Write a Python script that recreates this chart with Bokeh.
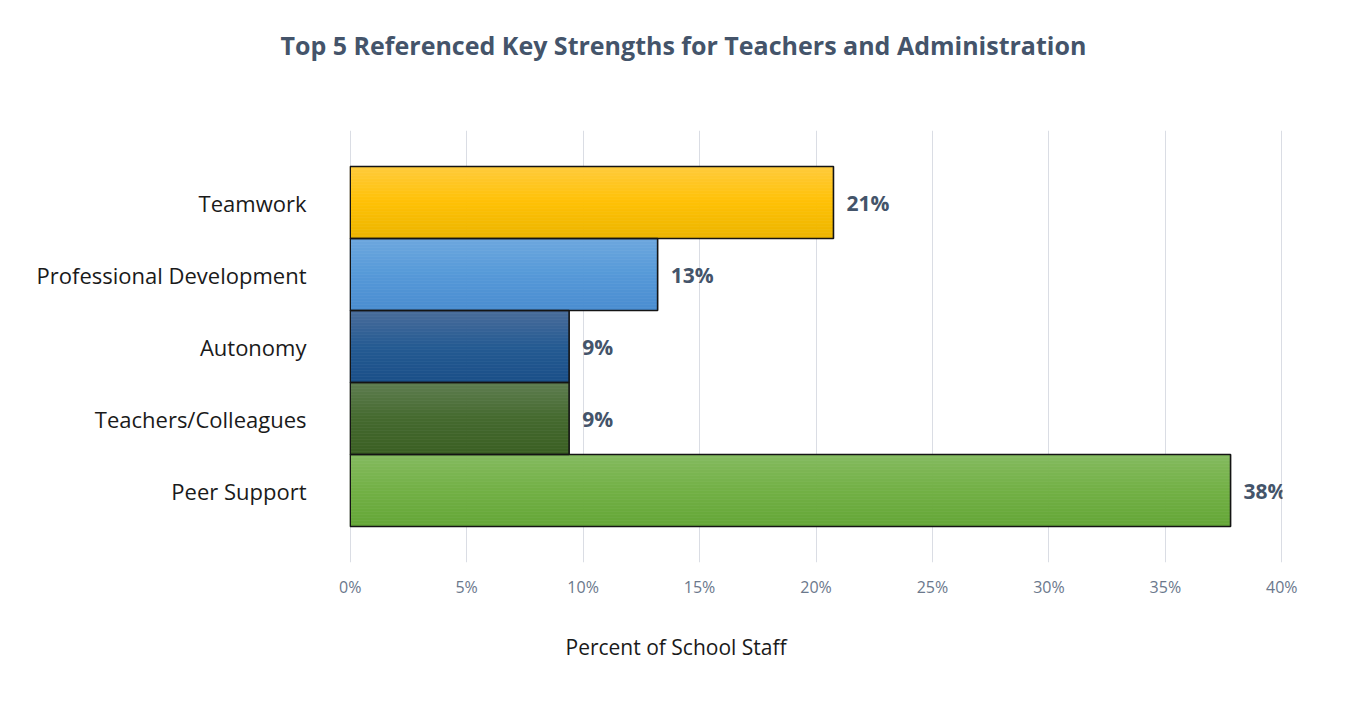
from bokeh.plotting import figure
from bokeh.models import ColumnDataSource, FactorRange, Range1d, Title, FixedTicker, PrintfTickFormatter
from bokeh.transform import dodge
from bokeh.core.properties import value
from bokeh.embed import file_html
from bokeh.resources import INLINE

# ---- data ----
categories = ["Teamwork", "Professional Development", "Autonomy", "Teachers/Colleagues", "Peer Support"]
percent = [20.75, 13.2, 9.4, 9.4, 37.8]
value_labels = ["21%", "13%", "9%", "9%", "38%"]
x_ticks = [0, 5, 10, 15, 20, 25, 30, 35, 40]

# gradient stops per bar (top, middle, bottom)
grad_top = ["#FFCB3C", "#6DA7DE", "#4A6C9A", "#5E7D50", "#84BA5F"]
grad_mid = ["#FFC105", "#5599D8", "#245A92", "#44692E", "#72B045"]
grad_bot = ["#EBB500", "#4A8CD0", "#1A4F88", "#3A5F23", "#64A637"]

FONT = "Open Sans"
N = 24


def hex2rgb(h):
    h = h.lstrip("#")
    return tuple(int(h[i:i + 2], 16) for i in (0, 2, 4))


def mix(a, b, t):
    ra, rb = hex2rgb(a), hex2rgb(b)
    return "#%02x%02x%02x" % tuple(round(ra[i] + (rb[i] - ra[i]) * t) for i in range(3))


data = dict(cat=categories, val=percent, lab=value_labels)
for k in range(N):
    t = (k + 0.5) / N
    cols = []
    for i in range(len(categories)):
        if t < 0.5:
            cols.append(mix(grad_top[i], grad_mid[i], t / 0.5))
        else:
            cols.append(mix(grad_mid[i], grad_bot[i], (t - 0.5) / 0.5))
    data[f"c{k}"] = cols
source = ColumnDataSource(data)

p = figure(
    width=1357, height=703,
    y_range=FactorRange(factors=categories[::-1], range_padding=0.2),
    x_range=Range1d(-0.03, 40.03),
    output_backend="svg", toolbar_location=None,
    min_border_left=349, min_border_right=75, min_border_top=130, min_border_bottom=141,
)
p.outline_line_color = None
p.background_fill_color = "white"
p.border_fill_color = "white"

# gradient strips
for k in range(N):
    off = 0.5 - (k + 0.5) / N
    p.hbar(y=dodge("cat", off, range=p.y_range), left=0, right="val", height=1.0 / N,
           fill_color=f"c{k}", line_color=f"c{k}", line_width=0.6, source=source)

# outlines
p.hbar(y="cat", left=0, right="val", height=1.0, fill_color=None,
       line_color="#141414", line_width=1.6, source=source)

# value labels
p.text(x="val", y="cat", text="lab", source=source, x_offset=13,
       text_baseline="middle", text_align="left",
       text_font=value(FONT), text_font_style="bold", text_font_size="21px",
       text_color="#44546A")

# axes
p.xaxis.ticker = FixedTicker(ticks=x_ticks)
p.xaxis.formatter = PrintfTickFormatter(format="%d%%")
p.xaxis.axis_line_color = None
p.xaxis.major_tick_line_color = None
p.xaxis.minor_tick_line_color = None
p.xaxis.major_label_standoff = 7
p.xaxis.major_label_text_font = FONT
p.xaxis.major_label_text_font_size = "16px"
p.xaxis.major_label_text_color = "#6B788C"

p.yaxis.axis_line_color = None
p.yaxis.major_tick_line_color = None
p.yaxis.minor_tick_line_color = None
p.yaxis.major_label_standoff = 37
p.yaxis.major_label_text_font = FONT
p.yaxis.major_label_text_font_size = "22px"
p.yaxis.major_label_text_color = "#1A1A1A"

p.xgrid.grid_line_color = "#DADDE4"
p.xgrid.grid_line_width = 1
p.ygrid.grid_line_color = None

# spacer (nearest the frame), then the title above it
p.add_layout(Title(text=" ", standoff=61, text_font_size="1px", text_color="white"), "above")
p.add_layout(Title(text="Top 5 Referenced Key Strengths for Teachers and Administration",
                   align="left", offset=-69, standoff=10,
                   text_font=FONT, text_font_style="bold", text_font_size="25px",
                   text_color="#44546A"), "above")
p.add_layout(Title(text="Percent of School Staff",
                   align="left", offset=216, standoff=61,
                   text_font=FONT, text_font_style="normal", text_font_size="21px",
                   text_color="#1A1A1A"), "below")

open("out.html", "w").write(file_html(p, INLINE))
